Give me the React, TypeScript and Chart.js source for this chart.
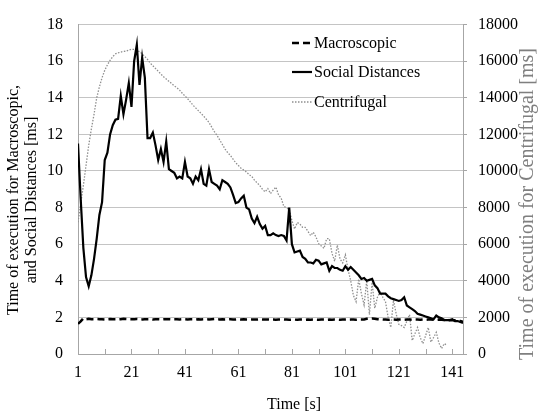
import React, { useEffect, useRef } from "react";
import { Chart, registerables } from "chart.js";

Chart.register(...registerables);

const time: number[] = Array.from({ length: 145 }, (_, i) => i + 1);
const xTickLabels = [1, 21, 41, 61, 81, 101, 121, 141];
const xMinorTicks = [1, 11, 21, 31, 41, 51, 61, 71, 81, 91, 101, 111, 121, 131, 141];

const macroscopic = [
  1.65, 1.78, 1.95, 1.9, 1.92, 1.9, 1.9, 1.91, 1.9, 1.9,
  1.89, 1.9, 1.91, 1.9, 1.9, 1.89, 1.9, 1.92, 1.91, 1.9,
  1.9, 1.9, 1.91, 1.9, 1.89, 1.9, 1.9, 1.9, 1.88, 1.9,
  1.9, 1.89, 1.9, 1.9, 1.9, 1.89, 1.9, 1.9, 1.89, 1.9,
  1.9, 1.89, 1.9, 1.9, 1.88, 1.9, 1.89, 1.9, 1.9, 1.89,
  1.9, 1.91, 1.9, 1.89, 1.9, 1.88, 1.89, 1.9, 1.89, 1.88,
  1.89, 1.88, 1.9, 1.88, 1.88, 1.89, 1.88, 1.88, 1.89, 1.88,
  1.88, 1.89, 1.88, 1.88, 1.87, 1.88, 1.88, 1.89, 1.88, 1.87,
  1.88, 1.88, 1.87, 1.88, 1.88, 1.87, 1.88, 1.87, 1.88, 1.88,
  1.87, 1.88, 1.88, 1.87, 1.88, 1.87, 1.88, 1.88, 1.87, 1.88,
  1.88, 1.87, 1.88, 1.88, 1.87, 1.88, 1.88, 1.89, 1.92, 1.93,
  1.94, 1.93, 1.9, 1.89, 1.88, 1.88, 1.87, 1.88, 1.88, 1.87,
  1.88, 1.88, 1.87, 1.88, 1.88, 1.87, 1.88, 1.88, 1.87, 1.88,
  1.87, 1.88, 1.88, 1.87, 1.87, 1.88, 1.87, 1.86, 1.86, 1.85,
  1.85, 1.84, 1.83, 1.8, 1.76,
];

const socialDistances = [
  11.5, 8.5, 5.8, 4.2, 3.7, 4.3, 5.2, 6.3, 7.6, 8.3,
  10.6, 11.0, 12.0, 12.5, 12.8, 12.85, 14.1, 13.1, 13.9, 14.8,
  13.5, 16.0, 16.9, 14.7, 16.2, 15.1, 11.8, 11.8, 12.1, 11.4,
  10.6, 11.2, 10.5, 11.6, 10.1, 10.0, 9.9, 9.6, 9.7, 9.6,
  10.5, 9.7, 9.6, 9.3, 9.7, 9.5, 10.1, 9.3, 9.2, 10.1,
  9.4, 9.3, 9.2, 9.0, 9.5, 9.4, 9.3, 9.1, 8.7, 8.25,
  8.3, 8.5, 8.65, 8.0, 7.9, 7.4, 7.15, 7.5, 7.1, 6.85,
  7.0, 6.5, 6.5, 6.6, 6.5, 6.45, 6.5, 6.45, 6.2, 8.0,
  6.0, 5.55, 5.6, 5.65, 5.3, 5.2, 5.0, 5.0, 4.95, 5.15,
  5.1, 4.9, 4.95, 5.0, 4.55, 4.8, 4.7, 4.7, 4.6, 4.55,
  4.8, 4.6, 4.75, 4.6, 4.45, 4.3, 4.1, 4.15, 4.0, 4.05,
  4.1, 3.75, 3.6, 3.3, 3.3, 3.3, 3.15, 3.05, 3.0, 2.95,
  2.9, 2.95, 3.1, 2.65, 2.55, 2.45, 2.35, 2.2, 2.15, 2.1,
  2.05, 2.0, 1.95, 1.9, 2.1, 2.0, 1.95, 1.85, 1.85, 1.85,
  1.9, 1.8, 1.8, 1.75, 1.7,
];

const centrifugal = [
  7200, 8200, 9200, 10300, 11400, 12300, 13100, 14000, 14600, 15100,
  15500, 15800, 16050, 16250, 16400, 16450, 16500, 16530, 16550, 16600,
  16650, 16650, 16600, 16520, 16400, 16250, 16100, 15900, 15750, 15600,
  15450, 15300, 15150, 15030, 14900, 14780, 14650, 14550, 14420, 14250,
  14100, 13950, 13780, 13600, 13450, 13300, 13150, 13000, 12830, 12650,
  12400, 12150, 11950, 11700, 11450, 11200, 11000, 10850, 10650, 10450,
  10300, 10150, 10050, 9950, 9800, 9700, 9500, 9350, 9200, 9000,
  8860, 9040, 8770, 8950, 9120, 8700, 8510, 8060, 8000, 7890,
  7300, 6830, 7180, 7100, 6920, 6920, 6700, 6470, 6650, 6400,
  6030, 5900, 5770, 6300, 6300, 5500, 5070, 5950, 5200, 4980,
  5420, 4620, 4000, 3200, 2860, 4090, 3300, 2680, 4010, 2150,
  3920, 2500, 3100, 3390, 3100, 2860, 2000, 1450, 2950, 2200,
  1620, 1550, 1450, 1800, 2150, 740, 1100, 1450, 900, 570,
  1000, 1450, 650, 900, 1180, 600, 300, 570, 480,
];

const seriesNames = ["Macroscopic", "Social Distances", "Centrifugal"];
const leftTitle = ["Time of execution for Macroscopic,", "and Social Distances [ms]"];
const rightTitle = "Time of execution for Centrifugal [ms]";
const xTitle = "Time [s]";

const FONT = "Liberation Serif";
const GRID = "#c4c4c4";
const AXIS = "#a6a6a6";
const GREY_LINE = "#8f8f8f";

Chart.defaults.font.family = FONT;
Chart.defaults.font.size = 16;
Chart.defaults.color = "#000";

const decorPlugin = {
  id: "decor",
  afterDraw(chart: any) {
    const ctx = chart.ctx;
    const x = chart.scales.x;
    const area = chart.chartArea;
    ctx.save();
    ctx.strokeStyle = AXIS;
    ctx.lineWidth = 1;
    xMinorTicks.forEach((t) => {
      const px = Math.round(x.getPixelForValue(t)) + 0.5;
      ctx.beginPath();
      ctx.moveTo(px, area.bottom);
      ctx.lineTo(px, area.bottom - 5);
      ctx.stroke();
    });
    const ds = chart.data.datasets;
    const ly = [43, 72, 102];
    ctx.font = `16px ${FONT}`;
    ctx.textBaseline = "middle";
    ctx.textAlign = "left";
    ds.forEach((d: any, i: number) => {
      ctx.save();
      ctx.strokeStyle = d.borderColor;
      ctx.lineWidth = d.borderWidth;
      ctx.setLineDash(d.borderDash || []);
      ctx.beginPath();
      ctx.moveTo(292, ly[i]);
      ctx.lineTo(312, ly[i]);
      ctx.stroke();
      ctx.restore();
      ctx.fillStyle = "#000";
      ctx.fillText(d.label, 314, ly[i] + 1);
    });
    ctx.fillStyle = "#000";
    ctx.font = `16px ${FONT}`;
    ctx.textAlign = "center";
    ctx.save();
    ctx.translate(14, 200);
    ctx.rotate(-Math.PI / 2);
    ctx.fillText(leftTitle[0], 0, 0);
    ctx.restore();
    ctx.save();
    ctx.translate(32, 200);
    ctx.rotate(-Math.PI / 2);
    ctx.fillText(leftTitle[1], 0, 0);
    ctx.restore();
    ctx.save();
    ctx.fillStyle = "#7f7f7f";
    ctx.font = `20px ${FONT}`;
    ctx.translate(528, 204);
    ctx.rotate(-Math.PI / 2);
    ctx.fillText(rightTitle, 0, 0);
    ctx.restore();
    ctx.textAlign = "left";
    ctx.font = `16px ${FONT}`;
    ctx.fillText(xTitle, 267, 405);
    ctx.restore();
  },
};

export default function App() {
  const ref = useRef<HTMLCanvasElement | null>(null);
  useEffect(() => {
    if (!ref.current) return;
    const tickFont = { family: FONT, size: 16 };
    const chart = new Chart(ref.current, {
      type: "line",
      data: {
        datasets: [
          {
            label: seriesNames[0],
            data: macroscopic.map((v, i) => ({ x: time[i], y: v })),
            borderColor: "#000",
            borderWidth: 2.5,
            borderDash: [7, 4],
            pointRadius: 0,
            yAxisID: "y",
          },
          {
            label: seriesNames[1],
            data: socialDistances.map((v, i) => ({ x: time[i], y: v })),
            borderColor: "#000",
            borderWidth: 2.2,
            pointRadius: 0,
            yAxisID: "y",
          },
          {
            label: seriesNames[2],
            data: centrifugal.map((v, i) => ({ x: time[i], y: v })),
            borderColor: GREY_LINE,
            borderWidth: 1.3,
            borderDash: [1.5, 1.5],
            pointRadius: 0,
            yAxisID: "y1",
          },
        ],
      },
      options: {
        animation: false,
        responsive: true,
        maintainAspectRatio: false,
        layout: { padding: { top: 14, left: 0, right: 0, bottom: 0 } },
        plugins: { legend: { display: false }, tooltip: { enabled: false } },
        scales: {
          x: {
            type: "linear",
            min: 1,
            max: 145,
            afterBuildTicks: (s: any) => {
              s.ticks = xTickLabels.map((v) => ({ value: v }));
            },
            afterFit: (s: any) => {
              s.height = 64;
            },
            ticks: {
              font: tickFont,
              color: "#000",
              padding: 9,
              maxRotation: 0,
              autoSkip: false,
              callback: (v: any) => String(v),
            },
            grid: { display: false, drawTicks: false },
            border: { display: true, color: AXIS },
          },
          y: {
            position: "left",
            min: 0,
            max: 18,
            ticks: {
              stepSize: 2,
              font: tickFont,
              color: "#000",
              padding: 15,
              callback: (v: any) => String(v),
            },
            afterFit: (s: any) => {
              s.width = 78;
            },
            grid: { color: GRID, drawTicks: false },
            border: { display: true, color: AXIS },
          },
          y1: {
            position: "right",
            min: 0,
            max: 18000,
            ticks: {
              stepSize: 2000,
              font: tickFont,
              color: "#000",
              padding: 11,
              callback: (v: any) => String(v),
            },
            afterFit: (s: any) => {
              s.width = 76;
            },
            grid: { drawOnChartArea: false, tickLength: 4, color: AXIS },
            border: { display: true, color: AXIS },
          },
        },
      },
      plugins: [decorPlugin],
    });
    return () => chart.destroy();
  }, []);
  return (
    <div style={{ position: "absolute", left: 0, top: 0, width: 539, height: 418, background: "#fff" }}>
      <canvas ref={ref} />
    </div>
  );
}
